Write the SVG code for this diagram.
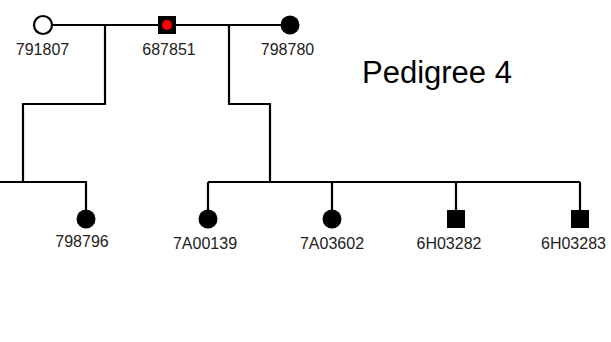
<svg xmlns="http://www.w3.org/2000/svg" width="611" height="342" viewBox="0 0 611 342">
<style>
.ln{stroke:#000;stroke-width:2.2;fill:none}
.lbl{font-family:"Liberation Sans",Arial,sans-serif;font-size:16px;fill:#222;text-anchor:middle}
.ttl{font-family:"Liberation Sans",Arial,sans-serif;font-size:31px;fill:#000}
</style>
<rect width="611" height="342" fill="#fff"/>
<g id="connectors" class="ln">
<path d="M52 25H158M176 25H281"/>
<path d="M105 25V104H23V182M0 182H86V210"/>
<path d="M229 25V104H270V182M208 182H580M208 182V210M332 182V210M456 182V210M580 182V210"/>
</g>
<g id="n791807"><circle cx="43" cy="25" r="9" fill="#fff" stroke="#000" stroke-width="2.2"/><text class="lbl" x="42.5" y="55">791807</text></g>
<g id="n687851"><rect x="158" y="16" width="18" height="18" fill="#000"/><circle cx="167" cy="25" r="5" fill="#f00"/><text class="lbl" x="169" y="55">687851</text></g>
<g id="n798780"><circle cx="290" cy="25" r="9.5" fill="#000"/><text class="lbl" x="287.5" y="55">798780</text></g>
<g id="n798796"><circle cx="86" cy="219" r="9.5" fill="#000"/><text class="lbl" x="82" y="247">798796</text></g>
<g id="n7A00139"><circle cx="208" cy="219" r="9.5" fill="#000"/><text class="lbl" x="205" y="249">7A00139</text></g>
<g id="n7A03602"><circle cx="332" cy="219" r="9.5" fill="#000"/><text class="lbl" x="332" y="249">7A03602</text></g>
<g id="n6H03282"><rect x="447" y="210" width="18" height="18" fill="#000"/><text class="lbl" x="449" y="249">6H03282</text></g>
<g id="n6H03283"><rect x="571" y="210" width="18" height="18" fill="#000"/><text class="lbl" x="573.5" y="249">6H03283</text></g>
<text class="ttl" x="362" y="83">Pedigree 4</text>
</svg>
